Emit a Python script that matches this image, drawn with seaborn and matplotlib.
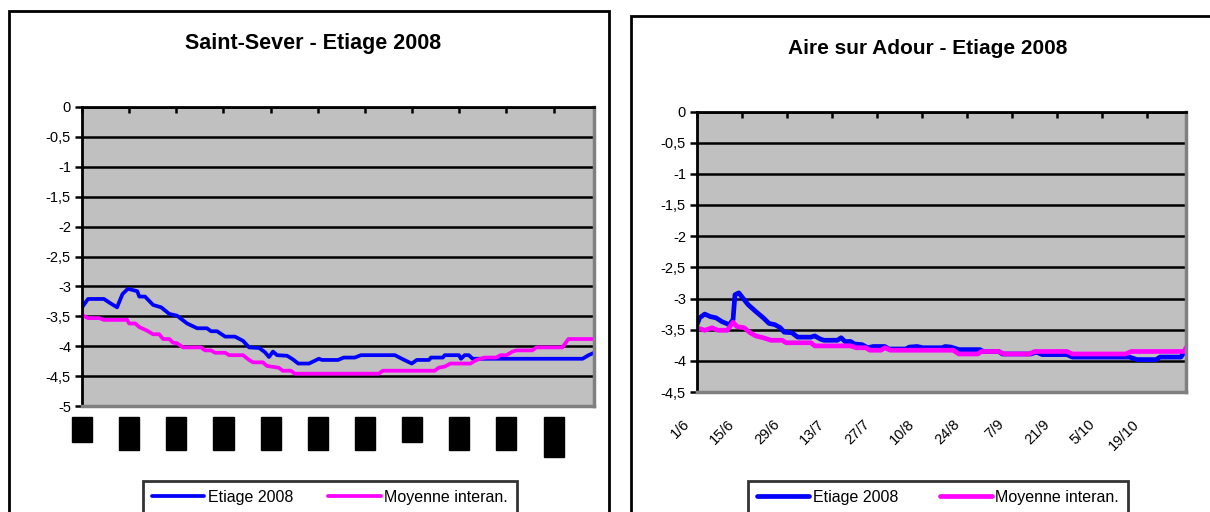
import matplotlib
matplotlib.use("Agg")
import matplotlib.pyplot as plt
from matplotlib.patches import Rectangle
from matplotlib.transforms import ScaledTranslation
import numpy as np
import seaborn as sns

sns.set_theme(style="white")
plt.rcParams["font.family"] = ["Liberation Sans", "DejaVu Sans"]
plt.rcParams.update({"text.color": "black", "xtick.color": "black",
                     "ytick.color": "black"})

BLUE = "#0000ff"
MAGENTA = "#ff00ff"
PLOT_BG = "#c0c0c0"

N_DAYS = 153  # 1/6 -> 31/10
DATE_LABELS = ["1/6", "15/6", "29/6", "13/7", "27/7", "10/8",
               "24/8", "7/9", "21/9", "5/10", "19/10"]
LEGEND_LABELS = ["Etiage 2008", "Moyenne interan."]

# Saint-Sever, day index (0 = 1/6) and level (m)
ss_etiage_day = [0, 1.8, 6.5, 8.1, 10.4, 12, 13.6, 16.4, 17, 18.7, 21.1, 23.5,
                 25.9, 28.2, 31.2, 34.2, 37.1, 38.3, 40.1, 42.5, 45.4, 47.8,
                 49.6, 52.6, 54.3, 55.5, 56.7, 57.9, 60.9, 62.6, 64.2, 67.4,
                 70.3, 71.3, 76, 77.7, 81, 82.8, 92.9, 95.3, 97.9, 99.4, 103,
                 103.6, 107.1, 107.7, 111.9, 112.5, 113.6, 114.8, 116, 148.6,
                 150.4, 152]
ss_etiage_val = [-3.35, -3.21, -3.21, -3.27, -3.35, -3.13, -3.04, -3.08, -3.17,
                 -3.17, -3.31, -3.35, -3.46, -3.49, -3.62, -3.70, -3.70, -3.75,
                 -3.75, -3.84, -3.84, -3.91, -4.02, -4.03, -4.10, -4.18, -4.09,
                 -4.15, -4.16, -4.22, -4.29, -4.29, -4.21, -4.23, -4.23, -4.19,
                 -4.19, -4.15, -4.15, -4.22, -4.29, -4.23, -4.23, -4.19, -4.19,
                 -4.15, -4.15, -4.21, -4.15, -4.15, -4.21, -4.21, -4.15, -4.11]

ss_moy_day = [0, 1.8, 5.1, 6.5, 13.4, 14, 15.8, 17, 19.3, 21.1, 22.9, 24.1,
              25.9, 27, 28.2, 30, 35.3, 36.5, 38.3, 39.5, 42.5, 43.7, 47.8,
              49.6, 50.8, 53.7, 54.9, 58.4, 59.6, 62, 63.2, 88.1, 89.3, 104.7,
              105.9, 107.7, 109.4, 115.3, 117.1, 119.5, 123, 124.2, 126, 127.8,
              129, 133.7, 134.9, 142.6, 144.4, 152]
ss_moy_val = [-3.48, -3.53, -3.53, -3.56, -3.56, -3.62, -3.62, -3.68, -3.74,
              -3.80, -3.80, -3.88, -3.88, -3.94, -3.95, -4.02, -4.02, -4.07,
              -4.07, -4.11, -4.11, -4.15, -4.15, -4.23, -4.27, -4.27, -4.33,
              -4.36, -4.41, -4.41, -4.46, -4.46, -4.41, -4.41, -4.36, -4.34,
              -4.29, -4.29, -4.23, -4.19, -4.19, -4.15, -4.15, -4.09, -4.07,
              -4.07, -4.02, -4.02, -3.88, -3.88]

# Aire sur Adour
aa_etiage_day = [0, 0.8, 2.4, 4.1, 5.9, 7.7, 10, 11.2, 11.8, 13, 14.2, 15.9,
                 18.3, 20.6, 22.4, 24.2, 25.9, 27.1, 29.5, 31.3, 35.4, 36.6,
                 38.3, 39.5, 43.6, 44.8, 46, 47.8, 48.9, 51.3, 53.1, 54.8, 58.4,
                 59.6, 63.1, 64.9, 66, 68.4, 70.2, 76.1, 77.2, 79, 81.4, 87.9,
                 89, 93.8, 94.9, 103.8, 105.5, 107.3, 115, 116.7, 134.4, 136.8,
                 142.7, 143.9, 150.4, 152]
aa_etiage_val = [-3.42, -3.31, -3.25, -3.29, -3.31, -3.37, -3.42, -3.34, -2.94,
                 -2.91, -2.99, -3.10, -3.21, -3.31, -3.40, -3.42, -3.47, -3.54,
                 -3.55, -3.62, -3.62, -3.60, -3.65, -3.67, -3.67, -3.63, -3.69,
                 -3.69, -3.73, -3.74, -3.79, -3.77, -3.77, -3.81, -3.81, -3.81,
                 -3.78, -3.77, -3.79, -3.79, -3.77, -3.78, -3.82, -3.82, -3.85,
                 -3.85, -3.89, -3.89, -3.86, -3.90, -3.90, -3.94, -3.94, -3.98,
                 -3.98, -3.94, -3.94, -3.82]

aa_moy_day = [0, 2.4, 4.7, 6.5, 9.4, 11.2, 12.4, 14.7, 16.5, 18.3, 20.6, 23,
              26.5, 27.7, 35.4, 36.6, 47.8, 49.5, 52.5, 53.7, 57.2, 58.4, 60.1,
              79.6, 81.4, 87.3, 88.4, 93.8, 95.5, 103.2, 105, 115, 116.7, 133.3,
              135, 151.5, 152]
aa_moy_val = [-3.47, -3.51, -3.47, -3.51, -3.51, -3.38, -3.45, -3.47, -3.55,
              -3.60, -3.63, -3.67, -3.67, -3.71, -3.71, -3.76, -3.76, -3.79,
              -3.79, -3.83, -3.83, -3.79, -3.83, -3.83, -3.89, -3.89, -3.85,
              -3.85, -3.89, -3.89, -3.85, -3.85, -3.89, -3.89, -3.85, -3.85,
              -3.79]


def style_axes(ax, ymin):
    ax.set_facecolor(PLOT_BG)
    ax.set_xlim(0, N_DAYS - 1)
    ax.set_ylim(ymin, 0)
    yt = np.arange(0, ymin - 0.01, -0.5)
    ax.set_yticks(yt, [f"{v:g}".replace(".", ",") for v in yt], fontsize=10.5)
    ax.yaxis.grid(True, color="black", lw=1.8)
    ax.xaxis.grid(False)
    for side in ("top", "left"):
        ax.spines[side].set_color("black")
        ax.spines[side].set_linewidth(2)
    for side in ("bottom", "right"):
        ax.spines[side].set_color("#808080")
        ax.spines[side].set_linewidth(2.5)
    ax.tick_params(axis="y", direction="out", length=5, width=1.8,
                   color="black", pad=3, left=True)
    ax.set_xlabel("")
    ax.set_ylabel("")


def draw(ax, d1, v1, d2, v2, lw):
    sns.lineplot(x=d1, y=v1, ax=ax, color=BLUE, lw=lw, sort=False,
                 label=LEGEND_LABELS[0], legend=False)
    sns.lineplot(x=d2, y=v2, ax=ax, color=MAGENTA, lw=lw, sort=False,
                 label=LEGEND_LABELS[1], legend=False)


fig = plt.figure(figsize=(12.1, 5.12), dpi=100)
W, H = 1210, 512

# outer chart frames
fig.patches.append(Rectangle((9 / W, -0.1), 600 / W, 1 - 11 / H + 0.1,
                             transform=fig.transFigure, fill=False,
                             ec="black", lw=2, clip_on=False))
fig.patches.append(Rectangle((631 / W, -0.1), 0.6, 1 - 16 / H + 0.1,
                             transform=fig.transFigure, fill=False,
                             ec="black", lw=2, clip_on=False))

tick_pos = [i * 14 for i in range(len(DATE_LABELS))]

# ---- Saint-Sever
ax1 = fig.add_axes([82 / W, 1 - 406 / H, 512 / W, 299 / H])
draw(ax1, ss_etiage_day, ss_etiage_val, ss_moy_day, ss_moy_val, 2.7)
style_axes(ax1, -5)
ax1.set_xticks(tick_pos, DATE_LABELS, rotation=90, fontsize=10)
ax1.tick_params(axis="x", top=True, bottom=False, labelbottom=True,
                direction="in", length=4, width=1.8, color="black", pad=10)
for lab in ax1.get_xticklabels():
    lab.set_color("black")
    lab.set_bbox(dict(facecolor="black", edgecolor="black", pad=2.2))
fig.text(313 / W, 1 - 44 / H, "Saint-Sever - Etiage 2008", ha="center",
         va="center", fontsize=15.5, fontweight="bold")

# ---- Aire sur Adour
ax2 = fig.add_axes([697 / W, 1 - 392 / H, 489 / W, 280.5 / H])
draw(ax2, aa_etiage_day, aa_etiage_val, aa_moy_day, aa_moy_val, 3.4)
style_axes(ax2, -4.5)
ax2.set_xticks(tick_pos, DATE_LABELS, rotation=45, fontsize=10.5,
               ha="right", va="bottom", rotation_mode="anchor")
ax2.tick_params(axis="x", top=True, bottom=False, labelbottom=True,
                direction="in", length=4, width=1.8, color="black", pad=25)
shift = ScaledTranslation(-5 / 100, 0, fig.dpi_scale_trans)
for lab in ax2.get_xticklabels():
    lab.set_transform(lab.get_transform() + shift)
fig.text(928 / W, 1 - 48 / H, "Aire sur Adour - Etiage 2008", ha="center",
         va="center", fontsize=15, fontweight="bold")

# legends
for ax, x0, lw, cs in ((ax1, 143, 2.7, 2.2), (ax2, 748, 3.4, 2.6)):
    h, l = ax.get_legend_handles_labels()
    fig.legend(h, l, loc="upper left", bbox_to_anchor=(x0 / W, 1 - 481 / H),
               ncol=2, fontsize=11.5, frameon=True, fancybox=False,
               edgecolor="black", handlelength=3.3, handletextpad=0.2,
               columnspacing=cs, borderaxespad=0, borderpad=0.55)
for leg in fig.legends:
    leg.get_frame().set_linewidth(2)

fig.savefig("out.png", dpi=100)
